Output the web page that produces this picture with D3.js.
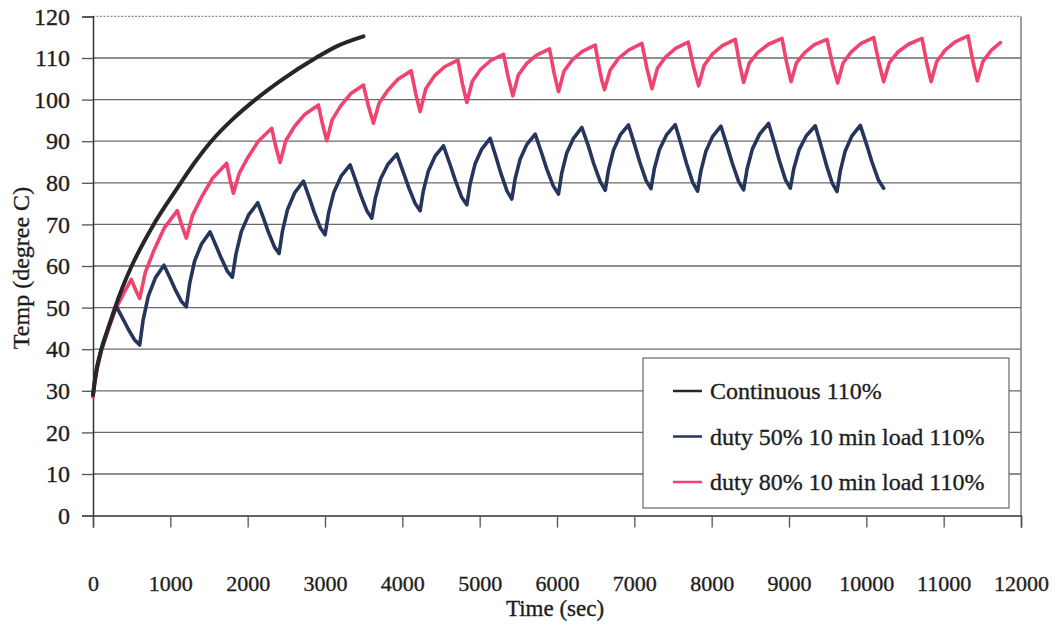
<!DOCTYPE html>
<html>
<head>
<meta charset="utf-8">
<script src="https://cdn.jsdelivr.net/npm/d3@7"></script>
<style>
  body { margin: 0; background: #fff; }
  text { font-family: "Liberation Serif", "Times New Roman", serif; fill: #1e1e1e; stroke: #1e1e1e; stroke-width: 0.35px; }
</style>
</head>
<body>
<div id="chart"></div>
<script>
// series data: [time (sec), temp (degree C)]
const continuous = [
  [0, 29], [20, 32], [50, 35.5], [108, 40], [195, 45], [285, 50], [385, 55], [500, 60],
  [635, 65], [785, 70], [955, 75], [1135, 80], [1320, 85], [1530, 90], [1790, 95],
  [2100, 100], [2460, 105], [2880, 110], [3150, 112.8], [3497, 115.2]
];

const duty50 = [
  [0, 29], [20, 32], [50, 35.5], [108, 40], [195, 45], [285, 49.5], [310, 50],
  [392, 47.1], [457, 44.8], [539, 42.2], [604, 41],
  [648, 47.0], [714, 52.7], [805, 57.1], [918, 60.2],
  [999, 57.0], [1062, 54.4], [1143, 51.5], [1207, 50.2],
  [1250, 55.8], [1314, 61.2], [1403, 65.3], [1514, 68.2],
  [1595, 64.7], [1658, 61.9], [1739, 58.7], [1802, 57.3],
  [1848, 62.8], [1917, 68.2], [2013, 72.3], [2131, 75.2],
  [2208, 71.3], [2269, 68.1], [2346, 64.6], [2406, 63],
  [2450, 68.4], [2516, 73.6], [2608, 77.6], [2721, 80.4],
  [2799, 76.3], [2861, 72.9], [2939, 69.2], [3001, 67.5],
  [3046, 72.7], [3114, 77.7], [3208, 81.6], [3325, 84.3],
  [3403, 80.2], [3465, 76.9], [3543, 73.2], [3605, 71.5],
  [3650, 76.3], [3718, 80.9], [3812, 84.4], [3929, 86.9],
  [4013, 82.5], [4080, 79.0], [4164, 75.1], [4230, 73.3],
  [4272, 78.1], [4336, 82.8], [4423, 86.4], [4532, 88.9],
  [4617, 84.4], [4683, 80.7], [4768, 76.5], [4834, 74.7],
  [4876, 79.7], [4940, 84.5], [5027, 88.1], [5136, 90.7],
  [5214, 86.0], [5276, 82.2], [5354, 78.0], [5416, 76.1],
  [5458, 80.9], [5522, 85.6], [5609, 89.2], [5718, 91.7],
  [5802, 87.1], [5868, 83.3], [5953, 79.2], [6019, 77.3],
  [6061, 82.3], [6125, 87.1], [6213, 90.7], [6322, 93.3],
  [6408, 88.7], [6473, 84.7], [6559, 80.3], [6624, 78.2],
  [6666, 83.1], [6731, 87.9], [6818, 91.5], [6925, 93.9],
  [7006, 89.0], [7070, 85.0], [7151, 80.6], [7215, 78.6],
  [7259, 83.4], [7325, 88.0], [7416, 91.5], [7529, 94.0],
  [7610, 88.9], [7674, 84.7], [7754, 80.1], [7818, 78.0],
  [7860, 82.8], [7924, 87.5], [8011, 91.1], [8120, 93.6],
  [8202, 88.7], [8267, 84.7], [8349, 80.3], [8413, 78.3],
  [8458, 83.3], [8526, 88.1], [8620, 91.7], [8736, 94.3],
  [8815, 89.3], [8876, 85.3], [8955, 80.7], [9017, 78.7],
  [9062, 83.4], [9130, 87.9], [9224, 91.3], [9340, 93.7],
  [9419, 88.6], [9480, 84.5], [9559, 79.9], [9621, 77.9],
  [9663, 82.8], [9726, 87.6], [9814, 91.3], [9922, 93.8],
  [10007, 89.0], [10073, 85.0], [10158, 80.6], [10224, 78.7]
];

const duty80 = [
  [0, 28.5], [20, 31.5], [50, 35], [108, 39.5], [195, 44.5], [285, 49.3], [400, 53.5], [495, 56.8],
  [550, 54.3], [604, 52.2],
  [677, 58.5], [789, 63.8], [920, 69.1], [1090, 73.3],
  [1149, 69.7], [1207, 66.7],
  [1285, 72.1], [1405, 76.6], [1546, 81.1], [1729, 84.7],
  [1772, 80.7], [1815, 77.5],
  [1889, 82.2], [2003, 86.1], [2137, 90.0], [2311, 93.1],
  [2365, 88.6], [2419, 84.9],
  [2493, 90.1], [2607, 93.6], [2741, 96.5], [2915, 98.7],
  [2969, 94.0], [3023, 90.1],
  [3094, 95.2], [3203, 98.5], [3331, 101.4], [3497, 103.5],
  [3562, 98.4], [3626, 94.3],
  [3699, 99.1], [3811, 102.2], [3943, 104.9], [4114, 106.9],
  [4172, 101.5], [4230, 97.1],
  [4303, 102.6], [4415, 105.7], [4547, 107.9], [4718, 109.5],
  [4776, 103.9], [4834, 99.3],
  [4905, 104.4], [5014, 107.3], [5142, 109.4], [5308, 110.9],
  [5369, 105.4], [5429, 100.9],
  [5500, 105.9], [5609, 108.7], [5737, 110.7], [5903, 112.2],
  [5961, 106.5], [6019, 101.9],
  [6090, 106.8], [6200, 109.6], [6328, 111.6], [6494, 113.1],
  [6535, 108.7], [6578, 104.7], [6615, 102.4],
  [6688, 107.1], [6796, 109.9], [6925, 111.9], [7098, 113.5],
  [7163, 107.5], [7228, 102.6],
  [7298, 107.5], [7406, 110.3], [7533, 112.3], [7697, 113.8],
  [7764, 108.0], [7831, 103.3],
  [7902, 108.2], [8011, 111.0], [8139, 113.0], [8305, 114.5],
  [8359, 108.8], [8413, 104.1],
  [8487, 108.8], [8601, 111.4], [8735, 113.3], [8909, 114.7],
  [8968, 109.0], [9026, 104.3],
  [9096, 108.8], [9203, 111.3], [9328, 113.2], [9491, 114.5],
  [9560, 108.7], [9629, 104.0],
  [9699, 108.8], [9806, 111.5], [9932, 113.5], [10095, 114.9],
  [10160, 109.1], [10224, 104.3],
  [10298, 108.9], [10412, 111.5], [10546, 113.3], [10720, 114.7],
  [10779, 109.0], [10837, 104.3],
  [10909, 109.1], [11019, 111.9], [11148, 113.9], [11315, 115.3],
  [11376, 109.4], [11436, 104.5],
  [11508, 109.2], [11618, 111.9], [11734, 113.7]
];

const seriesNames = ["Continuous 110%", "duty 50% 10 min load 110%", "duty 80% 10 min load 110%"];
const seriesColors = ["#262626", "#25355c", "#f0436f"];
const xTicks = d3.range(0, 12001, 1000);
const yTicks = d3.range(0, 121, 10);

const W = 1059, H = 629;
const plotLeft = 93, plotRight = 1021, plotTop = 16.4, plotBottom = 515.6;

const svg = d3.select("#chart").append("svg")
    .attr("width", W)
    .attr("height", H);

const x = d3.scaleLinear().domain([0, 12000]).range([plotLeft, plotRight]);
const y = d3.scaleLinear().domain([0, 120]).range([plotBottom, plotTop]);

// --- gridlines ---
svg.append("g")
    .selectAll("line")
    .data(yTicks.filter(d => d > 0 && d < 120))
    .enter()
    .append("line")
    .attr("x1", plotLeft).attr("x2", plotRight)
    .attr("y1", d => y(d)).attr("y2", d => y(d))
    .attr("stroke", "#6a6a6a")
    .attr("stroke-width", 1.3);

// top border (dotted) and right border
svg.append("line")
    .attr("x1", plotLeft).attr("x2", plotRight)
    .attr("y1", y(120)).attr("y2", y(120))
    .attr("stroke", "#8a8a8a")
    .attr("stroke-width", 1.2)
    .attr("stroke-dasharray", "2 1.5");

svg.append("line")
    .attr("x1", plotRight).attr("x2", plotRight)
    .attr("y1", y(120)).attr("y2", y(0))
    .attr("stroke", "#6a6a6a")
    .attr("stroke-width", 1.3);

// --- axes ---
const yAxis = svg.append("g")
    .attr("transform", "translate(" + plotLeft + ",0)")
    .call(d3.axisLeft(y).tickValues(yTicks).tickSize(11).tickPadding(12));

yAxis.selectAll("text").style("font-size", "24px");

const xAxis = svg.append("g")
    .attr("transform", "translate(0," + plotBottom + ")")
    .call(d3.axisBottom(x).tickValues(xTicks).tickSize(12).tickPadding(48).tickFormat(d3.format("d")));

xAxis.selectAll("text").style("font-size", "22px");

svg.selectAll(".domain").attr("stroke", "#333").attr("stroke-width", 1.5);
svg.selectAll(".tick line").attr("stroke", "#555").attr("stroke-width", 1.3);
svg.selectAll(".tick text").attr("fill", "#1e1e1e");

// --- axis titles ---
svg.append("text")
    .attr("x", 555)
    .attr("y", 616)
    .attr("text-anchor", "middle")
    .style("font-size", "23px")
    .text("Time (sec)");

svg.append("text")
    .attr("transform", "translate(29,268) rotate(-90)")
    .attr("text-anchor", "middle")
    .style("font-size", "24px")
    .text("Temp (degree C)");

// --- series ---
const line = d3.line()
    .x(d => x(d[0]))
    .y(d => y(d[1]));

const smoothLine = d3.line()
    .x(d => x(d[0]))
    .y(d => y(d[1]))
    .curve(d3.curveMonotoneX);

const allSeries = [continuous, duty50, duty80];
const widths = [4, 3.6, 3.6];

[2, 1, 0].forEach(i => {
    svg.append("path")
        .attr("d", (i === 0 ? smoothLine : line)(allSeries[i]))
        .attr("fill", "none")
        .attr("stroke", seriesColors[i])
        .attr("stroke-width", widths[i])
        .attr("stroke-linejoin", "round")
        .attr("stroke-linecap", "round");
});

// --- legend ---
const legend = svg.append("g");

legend.append("rect")
    .attr("x", 643).attr("y", 358)
    .attr("width", 366).attr("height", 150)
    .attr("fill", "#fff")
    .attr("stroke", "#666")
    .attr("stroke-width", 1.2);

seriesNames.forEach((name, i) => {
    const ly = 391 + i * 45.5;
    legend.append("line")
        .attr("x1", 673).attr("x2", 702)
        .attr("y1", ly).attr("y2", ly)
        .attr("stroke", seriesColors[i])
        .attr("stroke-width", 2.5);
    legend.append("text")
        .attr("x", 710)
        .attr("y", ly)
        .attr("dy", "0.35em")
        .style("font-size", "24px")
        .text(name);
});
</script>
</body>
</html>
